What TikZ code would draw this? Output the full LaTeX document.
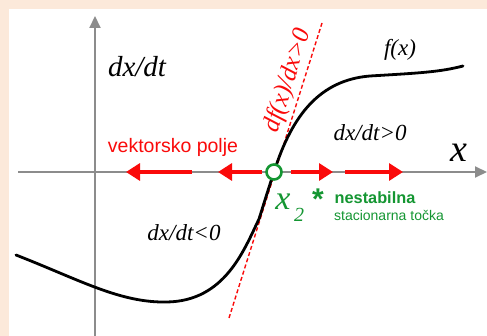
\documentclass[tikz,border=0pt]{standalone}
\usepackage{fontspec}
\setmainfont{Liberation Serif}
\newfontfamily\arialf{Liberation Sans}
\usetikzlibrary{arrows.meta}
\definecolor{peach}{RGB}{252,233,218}
\definecolor{axisgray}{RGB}{140,140,140}
\definecolor{vfred}{RGB}{250,10,10}
\definecolor{stgreen}{RGB}{20,150,50}
\tikzset{
  axisline/.style={draw=axisgray,line width=2pt,-{Triangle[length=12pt,width=11pt]}},
  vfarrow/.style={draw=vfred,line width=3.2pt,-{Triangle[length=14pt,width=17pt]}},
  lbl/.style={inner sep=0pt,font=\itshape\fontsize{23}{23}\selectfont},
}
\begin{document}
\begin{tikzpicture}[x=1pt,y=-1pt]
\useasboundingbox (0,0) rectangle (487,336);
\fill[peach] (0,0) rectangle (487,336);
\fill[white] (9,9) rectangle (487,336);
% axes
\coordinate (xs) at (18,172);
\coordinate (xe) at (487,172);
\coordinate (ys) at (95,336);
\coordinate (ye) at (95,16);
\draw[axisline] (xs) -- (xe);
\draw[axisline] (ys) -- (ye);
% red dashed tangent
\coordinate (ts) at (229,318);
\coordinate (te) at (322,23);
\draw[vfred,line width=1.4pt,dash pattern=on 4pt off 2.5pt] (ts) -- (te);
% curve
\draw[black,line width=2.8pt,line cap=round]
  (16,255) .. controls (80,280) and (120,303) .. (167,302)
  .. controls (225,301) and (244,250) .. (259,219)
  .. controls (265,200) and (268,190) .. (274,172)
  .. controls (292,115) and (320,80) .. (370,76)
  .. controls (420,73) and (440,72) .. (463,66);
% vector field arrows
\coordinate (a1s) at (192,172); \coordinate (a1e) at (126,172);
\coordinate (a2s) at (262,172); \coordinate (a2e) at (218,172);
\coordinate (a3s) at (291,172); \coordinate (a3e) at (333,172);
\coordinate (a4s) at (345,172); \coordinate (a4e) at (403,172);
\draw[vfarrow] (a1s) -- (a1e);
\draw[vfarrow] (a2s) -- (a2e);
\draw[vfarrow] (a3s) -- (a3e);
\draw[vfarrow] (a4s) -- (a4e);
% stationary point
\node[circle,draw=stgreen,fill=white,line width=2.6pt,minimum size=15pt,inner sep=0pt] (x2pt) at (274,172) {};
% labels
\node[inner sep=0pt,font=\itshape\fontsize{29}{29}\selectfont] (dxdt) at (137,67) {dx/dt};
\node[inner sep=0pt,font=\itshape\fontsize{23}{23}\selectfont] (fx) at (400,50) {f(x)};
\node[lbl] (pos) at (370,133) {dx/dt>0};
\node[lbl] (neg) at (184,233) {dx/dt<0};
\node[inner sep=0pt,font=\itshape\fontsize{38}{38}\selectfont] (xlab) at (459,153) {x};
\node[inner sep=0pt,text=vfred,rotate=72.5,font=\itshape\fontsize{25}{25}\selectfont] (dfdx) at (288,81) {df(x)/dx>0};
\node[inner sep=0pt,text=vfred,font=\arialf\fontsize{19.5}{20}\selectfont] (vp) at (173,147) {vektorsko polje};
\node[inner sep=0pt,text=stgreen,font=\itshape\fontsize{34}{34}\selectfont] (x2) at (283,202) {x};
\node[inner sep=0pt,text=stgreen,font=\itshape\fontsize{20}{20}\selectfont] (x2sub) at (299,215) {2};
\node[inner sep=0pt,text=stgreen,font=\arialf\bfseries\fontsize{30}{30}\selectfont] (ast) at (318,199) {*};
\node[inner sep=0pt,text=stgreen,font=\arialf\bfseries\fontsize{16.3}{17}\selectfont] (nest) at (375,198) {nestabilna};
\node[inner sep=0pt,text=stgreen,font=\arialf\fontsize{14}{14}\selectfont] (stac) at (389,215) {stacionarna točka};
\end{tikzpicture}
\end{document}
